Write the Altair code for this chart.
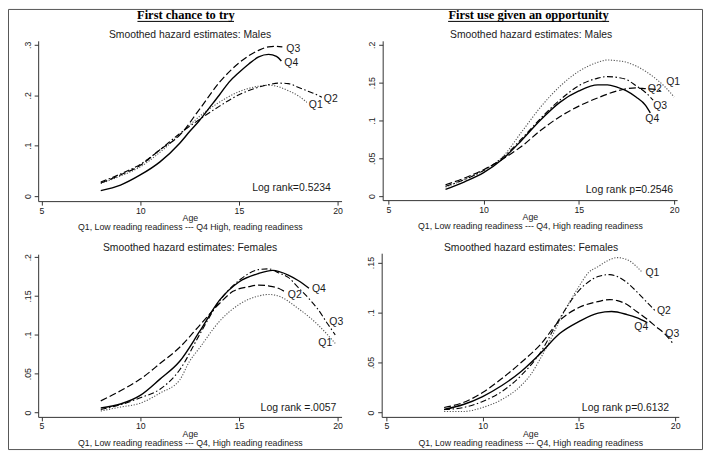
import altair as alt
import pandas as pd

# ---------------- data ----------------
# Top-left: First chance to try, Males
tl_q1_age = [8, 9, 10, 11, 12, 13, 14, 15, 16, 16.5, 17, 17.5, 18, 18.44]
tl_q1_haz = [.025, .040, .058, .087, .122, .158, .186, .207, .218, .220, .217, .209, .199, .186]
tl_q2_age = [8, 9, 10, 11, 12, 13, 14, 15, 16, 16.5, 17, 17.5, 18, 18.5, 19, 19.2]
tl_q2_haz = [.028, .044, .063, .092, .124, .152, .178, .201, .216, .221, .224, .223, .216, .208, .200, .196]
tl_q3_age = [8, 9, 10, 11, 12, 13, 14, 15, 16, 16.5, 16.9, 17.2]
tl_q3_haz = [.026, .042, .061, .092, .121, .172, .225, .264, .289, .296, .297, .296]
tl_q4_age = [8, 9, 10, 11, 12, 12.5, 13, 13.5, 14, 14.5, 15, 15.5, 16, 16.5, 16.9, 17.15]
tl_q4_haz = [.011, .022, .042, .068, .105, .128, .150, .175, .200, .226, .245, .262, .276, .281, .277, .268]

# Top-right: First use given an opportunity, Males
tr_q1_age = [8, 9, 10, 11, 12, 13, 14, 15, 16, 16.5, 17, 17.5, 18, 18.5, 19, 19.5, 20]
tr_q1_haz = [.012, .022, .034, .052, .085, .118, .145, .165, .177, .180, .179, .177, .172, .165, .156, .145, .131]
tr_q2_age = [8, 9, 10, 11, 12, 13, 14, 15, 16, 17, 17.5, 18, 18.5, 19, 19.3]
tr_q2_haz = [.015, .024, .035, .049, .066, .087, .105, .119, .130, .139, .142, .143, .142, .141, .139]
tr_q3_age = [8, 9, 10, 11, 12, 13, 14, 15, 16, 16.5, 17, 17.5, 18, 18.5, 18.9]
tr_q3_haz = [.013, .022, .034, .051, .076, .103, .127, .146, .156, .158, .157, .154, .146, .137, .127]
tr_q4_age = [8, 9, 10, 11, 12, 13, 14, 15, 16, 16.5, 17, 17.5, 18, 18.5, 18.75]
tr_q4_haz = [.009, .019, .031, .049, .074, .101, .124, .139, .147, .147, .144, .139, .131, .120, .110]

# Bottom-left: First chance to try, Females
bl_q1_age = [8, 9, 10, 11, 12, 12.5, 13, 14, 15, 16, 16.5, 17, 18, 19, 19.88]
bl_q1_haz = [.002, .007, .012, .025, .042, .066, .083, .117, .139, .150, .152, .150, .134, .113, .089]
bl_q2_age = [8, 9, 10, 11, 12, 13, 14, 14.7, 15.5, 16, 16.5, 17, 17.3]
bl_q2_haz = [.015, .028, .043, .063, .084, .112, .140, .156, .162, .164, .163, .160, .156]
bl_q3_age = [8, 9, 10, 11, 12, 13, 14, 15, 16, 16.5, 17, 17.5, 18, 18.5, 19, 19.5, 19.88]
bl_q3_haz = [.004, .010, .019, .030, .055, .100, .143, .170, .184, .185, .180, .174, .161, .148, .133, .114, .100]
bl_q4_age = [8, 9, 10, 11, 12, 13, 14, 15, 16, 16.7, 17.5, 18, 18.55]
bl_q4_haz = [.006, .011, .022, .043, .066, .104, .144, .168, .179, .183, .177, .170, .160]

# Bottom-right: First use given an opportunity, Females
br_q1_age = [8, 9, 10, 11, 12, 12.5, 13, 13.5, 14, 15, 15.5, 16, 16.5, 17, 17.5, 18, 18.3]
br_q1_haz = [.001, .001, .005, .013, .027, .038, .054, .072, .092, .126, .140, .146, .152, .155, .153, .146, .140]
br_q2_age = [8, 9, 10, 11, 12, 13, 14, 15, 16, 16.6, 17, 17.5, 18, 18.5, 19]
br_q2_haz = [.003, .005, .011, .021, .037, .060, .094, .122, .136, .138, .136, .130, .121, .111, .101]
br_q3_age = [8, 9, 10, 11, 12, 13, 14, 15, 16, 16.6, 17, 17.5, 18, 18.5, 19, 19.5, 19.85]
br_q3_haz = [.005, .010, .020, .034, .050, .068, .092, .105, .111, .113, .112, .108, .101, .094, .086, .078, .070]
br_q4_age = [8, 9, 10, 11, 12, 13, 14, 15, 16, 16.7, 17.5, 18, 18.55]
br_q4_haz = [.003, .008, .016, .027, .041, .059, .079, .091, .0995, .101, .098, .095, .090]

quartiles = ["Q1", "Q2", "Q3", "Q4"]
x_ticks = [5, 10, 15, 20]
tl_y_ticks = [0, .1, .2, .3]
tr_y_ticks = [0, .05, .1, .15, .2]
bl_y_ticks = [0, .05, .1, .15, .2]
br_y_ticks = [0, .05, .1, .15]

col_titles = ["First chance to try", "First use given an opportunity"]
sub_males = "Smoothed hazard estimates: Males"
sub_females = "Smoothed hazard estimates: Females"
cap_tl = "Q1, Low reading readiness --- Q4 High, reading readiness"
cap_other = "Q1, Low reading readiness --- Q4, High reading readiness"
logranks = ["Log rank=0.5234", "Log rank p=0.2546", "Log rank =.0057", "Log rank p=0.6132"]

# ---------------- styles ----------------
SANS = "Liberation Sans"
SERIF = "Liberation Serif"
INK = "#1a1a1a"
LINE_STYLE = {
    "solid": dict(stroke="#000000", strokeWidth=1.4),
    "dash": dict(stroke="#000000", strokeWidth=1.2, strokeDash=[7, 3]),
    "dashdot": dict(stroke="#000000", strokeWidth=1.1, strokeDash=[6, 2.5, 1.5, 2.5]),
    "dot": dict(stroke="#555555", strokeWidth=1.1, strokeDash=[1.2, 1.6]),
}
W, H = 698, 443


def axis_common():
    return dict(grid=False, domainColor="#333333", tickColor="#333333", tickSize=4,
                labelFont=SANS, labelFontSize=8.8, labelColor=INK)


def panel(series, styles, offsets, xdom, xrng, ydom, yrng, yticks, xoff, yoff,
          caption, subtitle, sub_xy, logrank, log_xy):
    x_enc = alt.X("age:Q",
                  scale=alt.Scale(domain=xdom, range=xrng, nice=False, zero=False),
                  axis=alt.Axis(values=x_ticks, orient="bottom", offset=xoff,
                                title=["Age", caption], titleFont=SANS, titleFontSize=8.8,
                                titleFontWeight="normal", titleColor=INK, titlePadding=-1,
                                titleLineHeight=8.5, labelPadding=1, **axis_common()))
    y_enc = alt.Y("haz:Q",
                  scale=alt.Scale(domain=ydom, range=yrng, nice=False, zero=False),
                  axis=alt.Axis(values=yticks, orient="left", offset=yoff, title=None,
                                labelAngle=270, labelAlign="center", labelBaseline="bottom",
                                labelPadding=2,
                                labelExpr="datum.value == 0 ? '0' : replace(format(datum.value, '.2~f'), '0.', '.')",
                                **axis_common()))
    layers = []
    for q, (ages, vals) in zip(quartiles, series):
        df = pd.DataFrame({"age": ages, "haz": vals})
        layers.append(alt.Chart(df).mark_line(interpolate="monotone", **LINE_STYLE[styles[q]])
                      .encode(x=x_enc, y=y_enc))
    for q, (ages, vals) in zip(quartiles, series):
        lab = pd.DataFrame({"age": [ages[-1]], "haz": [vals[-1]], "q": [q]})
        dx, dy = offsets[q]
        layers.append(alt.Chart(lab).mark_text(align="left", baseline="middle", dx=dx, dy=dy,
                                               font=SANS, fontSize=10.5, color=INK)
                      .encode(x=x_enc, y=y_enc, text="q:N"))
    layers.append(alt.Chart(pd.DataFrame({"t": [subtitle]}))
                  .mark_text(align="center", baseline="middle", font=SANS, fontSize=10.4, color=INK)
                  .encode(x=alt.value(sub_xy[0]), y=alt.value(sub_xy[1]), text="t:N"))
    layers.append(alt.Chart(pd.DataFrame({"t": [logrank]}))
                  .mark_text(align="left", baseline="middle", font=SANS, fontSize=10.5, color=INK)
                  .encode(x=alt.value(log_xy[0]), y=alt.value(log_xy[1]), text="t:N"))
    return alt.layer(*layers)


p_tl = panel([(tl_q1_age, tl_q1_haz), (tl_q2_age, tl_q2_haz), (tl_q3_age, tl_q3_haz), (tl_q4_age, tl_q4_haz)],
             {"Q1": "dot", "Q2": "dashdot", "Q3": "dash", "Q4": "solid"},
             {"Q1": (2, 3), "Q2": (2, 2), "Q3": (4, 2.5), "Q4": (3, 2)},
             [4.828, 20.2], [30.3, 335], [-0.00987, 0.3079], [193, 32], tl_y_ticks, 193 - H, -30.3,
             cap_tl, sub_males, (182.8, 26), logranks[0], (245.3, 179.5))
p_tr = panel([(tr_q1_age, tr_q1_haz), (tr_q2_age, tr_q2_haz), (tr_q3_age, tr_q3_haz), (tr_q4_age, tr_q4_haz)],
             {"Q1": "dot", "Q2": "dash", "Q3": "dashdot", "Q4": "solid"},
             {"Q1": (-8, -15), "Q2": (-13, -1.5), "Q3": (0, 6), "Q4": (-5, 6.5)},
             [4.702, 20.157], [376.3, 672], [-0.00526, 0.2053], [192, 32], tr_y_ticks, 192 - H, -376.3,
             cap_other, sub_males, (525.3, 26), logranks[1], (580.3, 182))
p_bl = panel([(bl_q1_age, bl_q1_haz), (bl_q2_age, bl_q2_haz), (bl_q3_age, bl_q3_haz), (bl_q4_age, bl_q4_haz)],
             {"Q1": "dot", "Q2": "dash", "Q3": "dashdot", "Q4": "solid"},
             {"Q1": (-17, 0), "Q2": (3.5, 4), "Q3": (-6, -13), "Q4": (3, 1)},
             [4.828, 20.2], [30.3, 335], [-0.00564, 0.20385], [409.7, 246.3], bl_y_ticks, 409.7 - H, -30.3,
             cap_other, sub_females, (182.8, 239.7), logranks[2], (253.7, 400.3))
p_br = panel([(br_q1_age, br_q1_haz), (br_q2_age, br_q2_haz), (br_q3_age, br_q3_haz), (br_q4_age, br_q4_haz)],
             {"Q1": "dot", "Q2": "dashdot", "Q3": "dash", "Q4": "solid"},
             {"Q1": (3, 0), "Q2": (1, -1), "Q3": (-7, -9), "Q4": (-13, 4)},
             [4.757, 20.19], [375.3, 673.7], [-0.0044, 0.1594], [409.7, 245.3], br_y_ticks, 409.7 - H, -375.3,
             cap_other, sub_females, (525.3, 239.7), logranks[3], (576.3, 400.3))

# column titles (underlined) and outer frame
title_layers = []
for t, cx, ux in zip(col_titles, [178.7, 522.8], [(130, 227), (442, 603.7)]):
    title_layers.append(alt.Chart(pd.DataFrame({"t": [t]}))
                        .mark_text(align="center", baseline="alphabetic", font=SERIF, fontSize=12.5,
                                   fontWeight="bold", color="#000000")
                        .encode(x=alt.value(cx), y=alt.value(10.5), text="t:N"))
    title_layers.append(alt.Chart(pd.DataFrame({"t": [t]}))
                        .mark_rule(color="#000000", strokeWidth=1)
                        .encode(x=alt.value(ux[0]), x2=alt.value(ux[1]), y=alt.value(12.5)))
frame = (alt.Chart(pd.DataFrame({"f": [0]}))
         .mark_rect(fillOpacity=0, stroke="#555555", strokeWidth=1)
         .encode(x=alt.value(0.5), x2=alt.value(W - 0.5), y=alt.value(0.5), y2=alt.value(H - 0.5)))

chart = (alt.layer(p_tl, p_tr, p_bl, p_br, *title_layers, frame)
         .resolve_scale(x="independent", y="independent")
         .resolve_axis(x="independent", y="independent")
         .properties(width=W, height=H, autosize=alt.AutoSizeParams(type="none"), padding=0,
                     background="white")
         .configure_view(strokeWidth=0))

chart.save("out.html", embed_options={"renderer": "svg", "actions": False})
